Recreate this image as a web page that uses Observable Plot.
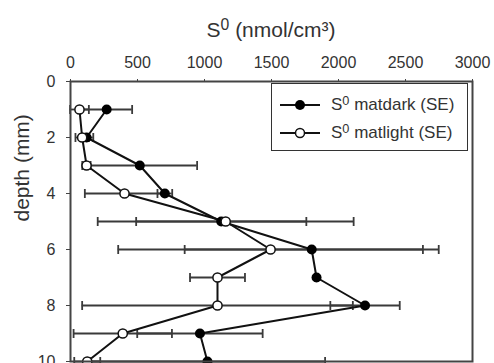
<!DOCTYPE html>
<html><head><meta charset="utf-8">
<script src="https://cdn.jsdelivr.net/npm/d3@7"></script>
<script src="https://cdn.jsdelivr.net/npm/@observablehq/plot@0.6"></script>
<style>
html,body{margin:0;padding:0;background:#fff;overflow:hidden;}
#wrap{position:relative;width:494px;height:363px;font-family:"Liberation Sans",Arial,sans-serif;color:#333;}
#title{position:absolute;left:70px;width:402px;top:19px;text-align:center;font-size:21px;line-height:21px;white-space:nowrap;}
sup{font-size:0.75em;vertical-align:0.42em;line-height:0;}
#legend{position:absolute;left:271px;top:83px;width:197px;height:68px;border:1.5px solid #333;background:#fff;font-size:17px;box-sizing:border-box;}
.row{position:absolute;left:8px;height:20px;display:flex;align-items:center;white-space:nowrap;}
.row svg{margin-right:10px;}
#chart{position:absolute;left:0;top:0;}
</style></head>
<body>
<div id="wrap">
  <div id="chart"></div>
  <div id="title">S<sup>0</sup> (nmol/cm³)</div>
  <div id="legend">
    <div class="row" style="top:11px"><svg width="41" height="14"><line x1="0" y1="7" x2="40" y2="7" stroke="#111" stroke-width="2"/><circle cx="20" cy="7" r="5" fill="#000"/></svg><span>S<sup>0</sup> matdark (SE)</span></div>
    <div class="row" style="top:39px"><svg width="41" height="14"><line x1="0" y1="7" x2="40" y2="7" stroke="#111" stroke-width="2"/><circle cx="20" cy="7" r="4.5" fill="#fff" stroke="#111" stroke-width="1.5"/></svg><span>S<sup>0</sup> matlight (SE)</span></div>
  </div>
</div>
<script>
const depth = [1, 2, 3, 4, 5, 6, 7, 8, 9, 10];
const darkMean = [270, 120, 517, 704, 1125, 1800, 1836, 2198, 966, 1022];
const darkSE = [190, 50, 428, 55, 635, 948, 10, 259, 468, 878];
const lightMean = [67, 87, 120, 403, 1158, 1493, 1097, 1097, 390, 125];
const lightSE = [70, 50, 30, 296, 955, 1137, 205, 1010, 367, 97];
const xTicks = [0, 500, 1000, 1500, 2000, 2500, 3000];
const yTicks = [0, 2, 4, 6, 8, 10];
const yLabel = "depth (mm)";

const dark = depth.map((d, i) => ({depth: d, v: darkMean[i], se: darkSE[i]}));
const light = depth.map((d, i) => ({depth: d, v: lightMean[i], se: lightSE[i]}));
const caps = [...dark, ...light].flatMap(d => [{depth: d.depth, x: d.v - d.se}, {depth: d.depth, x: d.v + d.se}]);
const capSymbol = {draw(ctx) { ctx.moveTo(0, -4.5); ctx.lineTo(0, 4.5); }};

const plot = Plot.plot({
  width: 494,
  height: 365,
  marginTop: 81,
  marginBottom: 4,
  marginLeft: 70,
  marginRight: 22,
  style: {fontFamily: "'Liberation Sans', Arial, sans-serif", fontSize: "16px", color: "#333", background: "transparent", overflow: "visible"},
  x: {domain: [0, 3000], axis: null},
  y: {domain: [0, 10], reverse: true, axis: null},
  marks: [
    Plot.axisX({anchor: "top", ticks: xTicks, tickFormat: d => String(d), tickSize: 3, tickPadding: 11, label: null, stroke: "#444"}),
    Plot.axisY({anchor: "left", ticks: yTicks, tickFormat: d => String(d), tickSize: 4, tickPadding: 11, label: null, stroke: "#444"}),
    Plot.text([yLabel], {frameAnchor: "left", text: d => d, rotate: -90, dx: -48, fontSize: 21, fill: "#333"}),
    Plot.ruleY([...dark, ...light], {y: "depth", x1: d => d.v - d.se, x2: d => d.v + d.se, stroke: "#3a3a3a", strokeWidth: 1.8}),
    Plot.dot(caps, {x: "x", y: "depth", symbol: capSymbol, stroke: "#3a3a3a", strokeWidth: 1.8, fill: "none"}),
    Plot.line(dark, {x: "v", y: "depth", stroke: "#111", strokeWidth: 2}),
    Plot.line(light, {x: "v", y: "depth", stroke: "#111", strokeWidth: 2}),
    Plot.dot(dark, {x: "v", y: "depth", r: 5, fill: "#000"}),
    Plot.dot(light, {x: "v", y: "depth", r: 4.6, fill: "#fff", stroke: "#111", strokeWidth: 1.5}),
    Plot.frame({stroke: "#444", strokeWidth: 2})
  ]
});
document.getElementById("chart").appendChild(plot);
</script>
</body></html>
